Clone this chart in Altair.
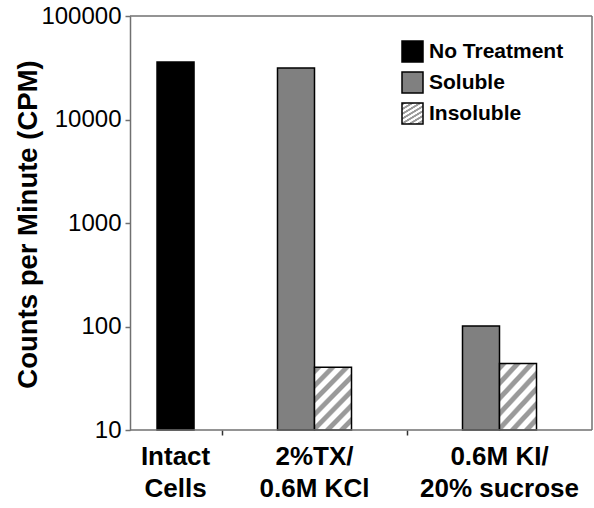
import altair as alt
import pandas as pd

# ---- data ----
categories = ["Intact Cells", "2%TX/ 0.6M KCl", "0.6M KI/ 20% sucrose"]
category_labels = ["Intact\nCells", "2%TX/\n0.6M KCl", "0.6M KI/\n20% sucrose"]
series = ["No Treatment", "Soluble", "Insoluble"]
no_treatment = [36000, None, None]
soluble = [None, 31500, 101]
insoluble = [None, 40.5, 44]
y_ticks = [10, 100, 1000, 10000, 100000]
y_floor = 10

rows = []
for i, c in enumerate(categories):
    for s, vals in zip(series, [no_treatment, soluble, insoluble]):
        if vals[i] is not None:
            rows.append({"category": c, "series": s, "value": vals[i]})
df = pd.DataFrame(rows)
label_df = pd.DataFrame({"category": categories, "label": category_labels})

# hatch pattern for "Insoluble" built as a striped linear gradient
gray, white = "#9a9a9a", "#ffffff"
n, frac, soft = 7, 0.48, 0.12
stops = []
for k in range(n):
    a = k / n
    stops += [(a, white), (a + soft / n, gray), (a + frac / n, gray), (a + (frac + soft) / n, white)]
stops.append((1.0, white))
stop_str = ",".join("{offset: %.4f, color: '%s'}" % (o, c) for o, c in stops)
hatch = "{gradient: 'linear', x1: 0, y1: 0, x2: 0.706, y2: 1.176, stops: [%s]}" % stop_str

FONT = "Liberation Sans"
W, H = 555, 414
AX = 93  # position of the value axis inside the plot area
LINE = "#707070"

fill_enc = alt.Fill(
    "series:N",
    scale=alt.Scale(domain=series, range=["#000000", "#808080", {"expr": hatch}]),
    legend=alt.Legend(
        title=None, orient="none", legendX=364, legendY=24, padding=0,
        symbolType="square", symbolSize=441, symbolStrokeColor="#000000",
        symbolStrokeWidth=1.5, symbolOpacity=1,
        labelFont=FONT, labelFontSize=21, labelFontWeight="bold", labelColor="#000000",
        labelOffset=5, rowPadding=4, labelLimit=300,
    ),
)

x_enc = alt.X(
    "category:N",
    sort=categories,
    scale=alt.Scale(domain=categories, paddingInner=0, paddingOuter=0),
    axis=alt.Axis(
        title=None, labels=False, domain=False, ticks=True, bandPosition=0,
        tickSize=5, tickWidth=1.5, tickColor="#333333",
        tickOpacity={"condition": {"test": "datum.value === 'Intact Cells'", "value": 0}, "value": 1},
    ),
)

y_enc = alt.Y(
    "value:Q",
    scale=alt.Scale(type="log", domain=[10, 100000], nice=False),
    axis=alt.Axis(
        values=y_ticks, format="d", grid=False, offset=-AX,
        labelFont=FONT, labelFontSize=24, labelColor="#000000", labelPadding=4,
        tickSize=5, tickWidth=1.5, tickColor=LINE,
        domainColor=LINE, domainWidth=1.5,
        title="Counts per Minute (CPM)", titleFont=FONT, titleFontSize=27.5,
        titleFontWeight="bold", titleColor="#000000", titleAngle=270,
        titleX=-88, titleY=208, titleAlign="center", titleBaseline="bottom",
    ),
)

bar_style = dict(stroke="#000000", strokeWidth=1.5)

nt_offset = alt.XOffset("series:N", scale=alt.Scale(domain=["No Treatment"], paddingInner=0.5,
                                                     paddingOuter=1, align=0.811))
pair_offset = alt.XOffset("series:N", scale=alt.Scale(domain=["Soluble", "Insoluble", "-"], paddingInner=0,
                                                       paddingOuter=1, align=0.75))
label_offset = alt.XOffset("series:N", scale=alt.Scale(domain=["No Treatment"], paddingOuter=1,
                                                        align=0.749))

nt_bars = alt.Chart(df).transform_filter(alt.datum.series == "No Treatment").mark_bar(**bar_style).encode(
    x=x_enc, xOffset=nt_offset, y=y_enc, y2=alt.datum(y_floor), fill=fill_enc,
)

other_bars = alt.Chart(df).transform_filter(alt.datum.series != "No Treatment").mark_bar(**bar_style).encode(
    x=x_enc, xOffset=pair_offset, y=y_enc, y2=alt.datum(y_floor), fill=fill_enc,
)

text_style = dict(font=FONT, fontSize=26, fontWeight="bold", color="#000000",
                  align="center", baseline="alphabetic", lineBreak="\n", lineHeight=32)

label_first = alt.Chart(label_df).transform_filter(alt.datum.category == categories[0]).transform_calculate(
    series="'No Treatment'"
).mark_text(**text_style).encode(
    x=x_enc, xOffset=label_offset, y=alt.value(449), text="label:N",
)

label_rest = alt.Chart(label_df).transform_filter(alt.datum.category != categories[0]).mark_text(**text_style).encode(
    x=x_enc, y=alt.value(449), text="label:N",
)

one = alt.Data(values=[{}])
top_line = alt.Chart(one).mark_rule(color=LINE, strokeWidth=1.5).encode(
    x=alt.value(AX), x2=alt.value(W), y=alt.value(0))
right_line = alt.Chart(one).mark_rule(color=LINE, strokeWidth=1.5).encode(
    x=alt.value(W), y=alt.value(0), y2=alt.value(H))
bottom_line = alt.Chart(one).mark_rule(color=LINE, strokeWidth=1.5).encode(
    x=alt.value(AX), x2=alt.value(W), y=alt.value(H))

chart = alt.layer(
    nt_bars, other_bars, label_first, label_rest, top_line, right_line, bottom_line
).resolve_scale(
    xOffset="independent"
).properties(
    width=W, height=H,
    autosize=alt.AutoSizeParams(type="none"),
    padding={"left": 37, "top": 16, "right": 2, "bottom": 78},
    background="#ffffff",
).configure_view(stroke=None)

chart.save("out.html", embed_options={"renderer": "svg", "actions": False})
